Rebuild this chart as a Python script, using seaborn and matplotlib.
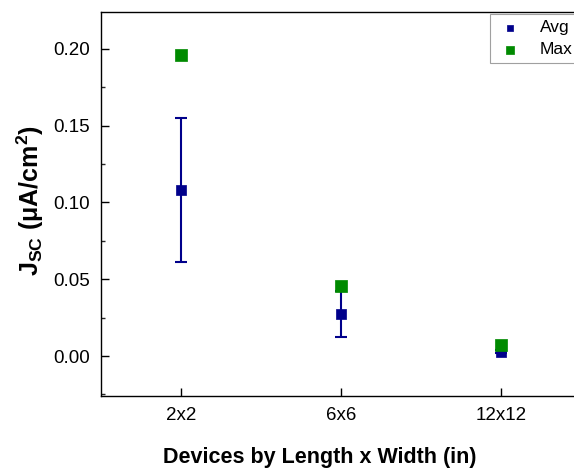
import matplotlib
matplotlib.use("Agg")
import matplotlib.pyplot as plt
from matplotlib.ticker import MultipleLocator, FormatStrFormatter
import seaborn as sns
import pandas as pd

# Device sizes and short-circuit current density readings
devices = ["2x2", "6x6", "12x12"]
jsc_avg = [0.108, 0.0275, 0.0028]
jsc_err = [0.047, 0.015, 0.0010]
jsc_max = [0.196, 0.0455, 0.0075]

sns.set_theme(style="white")
plt.rcParams["font.family"] = ["Liberation Sans", "DejaVu Sans"]
plt.rcParams["mathtext.fontset"] = "custom"
plt.rcParams["mathtext.rm"] = "Liberation Sans:bold"
plt.rcParams["mathtext.it"] = "Liberation Sans:bold"
plt.rcParams["mathtext.bf"] = "Liberation Sans:bold"
plt.rcParams["text.color"] = "black"
plt.rcParams["axes.labelcolor"] = "black"

df = pd.DataFrame({"device": devices, "avg": jsc_avg, "err": jsc_err, "max": jsc_max})

fig = plt.figure(figsize=(5.74, 4.73), dpi=100)
# the right-hand part of the frame runs past the figure edge
ax_w = 0.86
ax = fig.add_axes([0.176, 0.1628, ax_w, 0.8118])

navy = "#00008B"
green = "#008A00"

ax.errorbar(df["device"], df["avg"], yerr=df["err"], fmt="none",
            ecolor=navy, elinewidth=1.5, capsize=4, capthick=1.5, zorder=2)
sns.scatterplot(data=df, x="device", y="avg", marker="s", s=45, color=navy,
                edgecolor=navy, linewidth=0.5, ax=ax, label="Avg", zorder=3)
sns.scatterplot(data=df, x="device", y="max", marker="s", s=70, color=green,
                edgecolor=green, linewidth=0.5, ax=ax, label="Max", zorder=4)

ax.set_xlim(-0.5, -0.5 + ax_w * 574 / 160)
ax.set_ylim(-0.026, 0.224)
ax.yaxis.set_major_locator(MultipleLocator(0.05))
ax.yaxis.set_minor_locator(MultipleLocator(0.025))
ax.yaxis.set_major_formatter(FormatStrFormatter("%.2f"))

for side in ax.spines.values():
    side.set_visible(True)
    side.set_color("black")
    side.set_linewidth(1.0)

ax.tick_params(axis="both", which="major", direction="in", length=6, width=1,
               labelsize=13.5, colors="black", left=True, bottom=True, pad=8)
ax.tick_params(axis="y", which="minor", direction="in", length=3, width=1, left=True)

ax.set_xlabel("Devices by Length x Width (in)", fontsize=15.5, fontweight="bold",
              color="black")
ax.xaxis.set_label_coords((320 - 101) / (ax_w * 574), -(458 - 396) / (0.8118 * 473),
                          transform=ax.transAxes)
ax.xaxis.label.set_va("center")
ax.set_ylabel(r"$\mathbf{J_{SC}}$ ($\mathbf{\mu}$A/cm$^\mathbf{2}$)", fontsize=18,
              fontweight="bold", color="black")
ax.yaxis.set_label_coords(-(101 - 30) / (ax_w * 574), (473 - 201 - 0.1628 * 473) / (0.8118 * 473),
                          transform=ax.transAxes)
ax.yaxis.label.set_va("center")

leg = ax.legend(loc="upper left", bbox_to_anchor=(490 / 574, 1 - 14 / 473),
                bbox_transform=fig.transFigure, borderaxespad=0, fontsize=12.5,
                frameon=True, fancybox=False, edgecolor="#888888",
                handletextpad=0.9, borderpad=0.35, labelspacing=0.4, markerscale=0.7,
                handlelength=1.6)
leg.get_frame().set_linewidth(0.8)
for t in leg.get_texts():
    t.set_color("black")

fig.savefig("out.png", dpi=100)
